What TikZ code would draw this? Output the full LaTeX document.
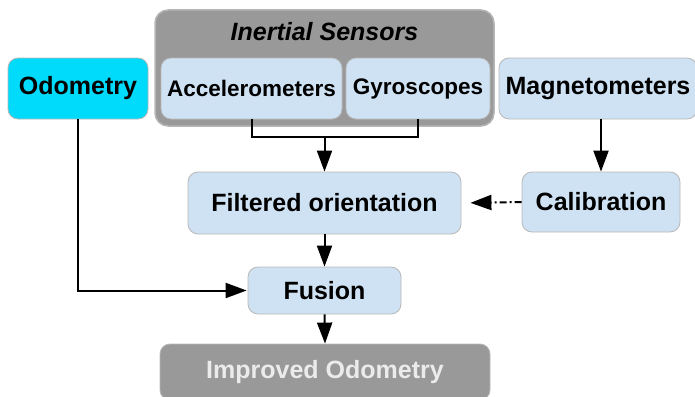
\documentclass[tikz,border=0pt]{standalone}
\usepackage{fontspec}
\setmainfont{Liberation Sans}
\usepackage{xcolor}
\usetikzlibrary{arrows.meta}

\definecolor{boxblue}{HTML}{CFE2F3}
\definecolor{odocyan}{HTML}{00DAFB}
\definecolor{groupgray}{HTML}{999999}
\definecolor{edgegray}{HTML}{B7B7B7}

\begin{document}
\begin{tikzpicture}[x=1pt, y=-1pt,
    box/.style={draw=edgegray, fill=boxblue, rounded corners=10pt, line width=0.8pt,
        font=\fontsize{25}{30}\selectfont\bfseries, inner sep=0pt},
    sensor/.style={box, font=\fontsize{22.5}{27}\selectfont\bfseries},
    flow/.style={line width=2pt, -{Triangle[length=21pt, width=15pt]}},
    link/.style={line width=2pt}]
    \useasboundingbox (0,0) rectangle (695,396);

    % inertial group
    \node[draw=edgegray, fill=groupgray, rounded corners=13pt, line width=1.5pt,
        minimum width=339pt, minimum height=116pt] (inertial) at (324.5,68) {};
    \node[font=\fontsize{25}{30}\selectfont\bfseries\itshape] (title) at (324.5,32) {Inertial Sensors};
    \node[sensor, minimum width=181pt, minimum height=61pt] (acc) at (251.5,88.5) {Accelerometers};
    \node[sensor, minimum width=144pt, minimum height=61pt] (gyro) at (418,88.5) {Gyroscopes};

    \node[box, fill=odocyan, minimum width=140pt, minimum height=61pt] (odo) at (78,88.5) {Odometry};
    \node[box, minimum width=198pt, minimum height=61pt] (mag) at (598,88.5) {Magnetometers};
    \node[box, minimum width=273pt, minimum height=62pt] (filt) at (324.5,203) {Filtered orientation};
    \node[box, minimum width=158pt, minimum height=60pt] (cal) at (601,202) {Calibration};
    \node[box, minimum width=153pt, minimum height=47pt] (fus) at (324.5,290.5) {Fusion};
    \node[box, draw=edgegray, fill=groupgray, text=white!92!black, minimum width=330pt,
        minimum height=56pt] (imp) at (325,372) {Improved Odometry};

    \coordinate (merge) at (324.5,137);

    \draw[link] (acc.south) |- (merge);
    \draw[link] (gyro.south) |- (merge);
    \draw[flow] (merge) -- (filt.north);
    \draw[flow] (mag.south -| cal.north) -- (cal.north);
    \draw[flow, dash pattern=on 7pt off 3pt on 2pt off 3pt, shorten >=9pt] (cal.west) -- (filt.east);
    \draw[flow] (filt.south) -- (fus.north);
    \draw[flow, shorten >=1pt] (odo.south) |- (fus.west);
    \draw[flow] (fus.south) -- (imp.north);
\end{tikzpicture}
\end{document}
